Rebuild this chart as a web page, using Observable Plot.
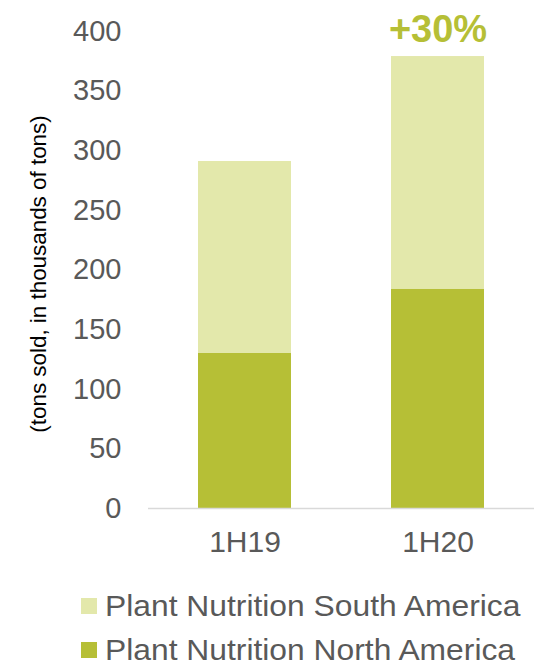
<!DOCTYPE html>
<html>
<head>
<meta charset="utf-8">
<script src="https://cdn.jsdelivr.net/npm/d3@7"></script>
<script src="https://cdn.jsdelivr.net/npm/@observablehq/plot@0.6"></script>
<style>
  html, body { margin: 0; padding: 0; background: #fff; }
  #wrap { position: relative; width: 535px; height: 666px; overflow: hidden; font-family: "Liberation Sans", Arial, sans-serif; color: #595959; }
  #chart { position: absolute; left: 0; top: 0; }
  .leg { position: absolute; left: 81px; font-size: 30px; line-height: 30px; white-space: nowrap; }
  .leg .sw { position: absolute; left: 0; width: 16px; height: 16px; }
  .leg .tx { position: absolute; left: 24px; top: 0; transform: scaleX(1.06); transform-origin: 0 50%; }
  #ytitle { position: absolute; left: 39px; top: 274px; font-size: 22.4px; line-height: 22px; color: #000; white-space: nowrap; transform: translate(-50%, -50%) rotate(-90deg); }
</style>
</head>
<body>
<div id="wrap">
  <div id="chart"></div>
  <div id="ytitle"></div>
  <div id="legend"></div>
</div>
<script>
const periods = ["1H19", "1H20"];
const seriesNames = ["Plant Nutrition North America", "Plant Nutrition South America"];
const northAmerica = [130, 184];
const southAmerica = [161, 195];
const yTicks = [0, 50, 100, 150, 200, 250, 300, 350, 400];
const growthLabel = "+30%";
const yTitle = "(tons sold, in thousands of tons)";
const colors = ["#b6bf36", "#e3e8ab"];

const rows = [];
periods.forEach((p, i) => {
  rows.push({period: p, series: seriesNames[0], value: northAmerica[i]});
  rows.push({period: p, series: seriesNames[1], value: southAmerica[i]});
});
const totals = periods.map((p, i) => ({period: p, total: northAmerica[i] + southAmerica[i]}));

const plot = Plot.plot({
  width: 535,
  height: 575,
  marginTop: 31,
  marginBottom: 67,
  marginLeft: 148,
  marginRight: 1,
  style: {fontFamily: "Liberation Sans, Arial, sans-serif", color: "#595959", background: "#fff", overflow: "visible"},
  x: {domain: periods, paddingInner: 0.52, paddingOuter: 0.26, label: null},
  y: {domain: [0, 400], label: null},
  color: {domain: seriesNames, range: colors},
  marks: [
    Plot.barY(rows, {x: "period", y: "value", fill: "series"}),
    Plot.ruleY([0], {stroke: "#d9d9d9", strokeWidth: 1.5}),
    Plot.axisY({ticks: yTicks, tickSize: 0, tickPadding: 27, fontSize: 29, label: null, fill: "#595959"}),
    Plot.axisX({tickSize: 0, tickPadding: 22, fontSize: 30, label: null, fill: "#595959"}),
    Plot.text(totals.filter(d => d.period === "1H20"), {x: "period", y: "total", text: () => growthLabel, fill: "#b6bf36", fontSize: 38, fontWeight: "bold", lineAnchor: "bottom", dy: -15})
  ]
});
document.getElementById("chart").appendChild(plot);
document.getElementById("ytitle").textContent = yTitle;

const legend = document.getElementById("legend");
const legendItems = [
  {name: seriesNames[1], color: colors[1], top: 591},
  {name: seriesNames[0], color: colors[0], top: 635}
];
legendItems.forEach(it => {
  const row = document.createElement("div");
  row.className = "leg";
  row.style.top = it.top + "px";
  const sw = document.createElement("span");
  sw.className = "sw";
  sw.style.background = it.color;
  sw.style.top = "7px";
  const tx = document.createElement("span");
  tx.className = "tx";
  tx.textContent = it.name;
  row.appendChild(sw);
  row.appendChild(tx);
  legend.appendChild(row);
});
</script>
</body>
</html>
